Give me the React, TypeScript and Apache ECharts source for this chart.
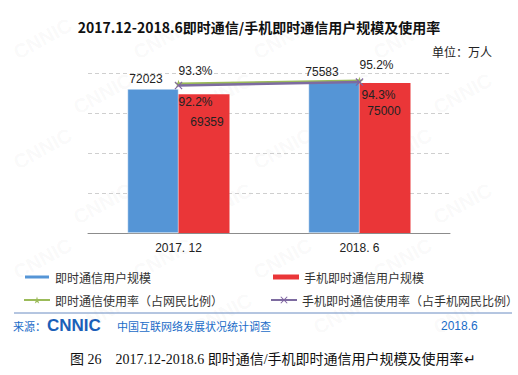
import React, { useEffect, useRef } from "react";
import * as echarts from "echarts";

const categories = ["2017. 12", "2018. 6"];
const imUsers = [72023, 75583];
const mobileImUsers = [69359, 75000];
const imRate = [93.3, 95.2];
const mobileImRate = [92.2, 94.3];

const seriesNames = [
  "即时通信用户规模",
  "手机即时通信用户规模",
  "即时通信使用率（占网民比例）",
  "手机即时通信使用率（占手机网民比例）",
];

const STAR =
  "path://M50,0L61,35L98,35L68,57L79,91L50,70L21,91L32,57L2,35L39,35Z";
const CROSS =
  "path://M10,0L50,40L90,0L100,10L60,50L100,90L90,100L50,60L10,100L0,90L40,50L0,10Z";

const FONT = "'Liberation Sans', 'Noto Sans CJK SC', sans-serif";
const CJK = "'Noto Sans CJK SC', 'Liberation Sans', sans-serif";

export default function App() {
  const ref = useRef<HTMLDivElement>(null);
  useEffect(() => {
    if (!ref.current) return;
    const chart = echarts.init(ref.current, null, { renderer: "svg" });

    const watermarks: any[] = [];
    for (let r = 0; r < 8; r++) {
      for (let c = 0; c < 6; c++) {
        const x = c * 120 + (r % 2) * 60 + 10;
        const y = r * 55 + 45;
        if (x < 5 || x > 445 || y < 40 || y > 365) continue;
        watermarks.push({
          type: "text",
          x,
          y,
          rotation: 0.5,
          silent: true,
          z: -10,
          style: {
            text: "CNNIC",
            fill: "rgba(120,120,120,0.05)",
            font: "bold 20px 'Liberation Sans', sans-serif",
          },
        });
      }
    }

    chart.setOption({
      animation: false,
      backgroundColor: "#fff",
      textStyle: { fontFamily: FONT },
      title: {
        text: "2017.12-2018.6即时通信/手机即时通信用户规模及使用率",
        left: "center",
        top: 15,
        textStyle: {
          fontSize: 14,
          fontWeight: "bold",
          color: "#111",
          fontFamily: CJK,
        },
      },
      grid: { left: 88, right: 68, top: 73, bottom: 142 },
      xAxis: {
        type: "category",
        data: categories,
        axisLine: { lineStyle: { color: "#8c8c8c" } },
        axisTick: { inside: true, length: 4, lineStyle: { color: "#8c8c8c" } },
        axisLabel: { color: "#222", fontSize: 12, margin: 9, fontFamily: FONT },
      },
      yAxis: [
        {
          type: "value",
          min: 0,
          max: 80000,
          interval: 20000,
          axisLine: { show: false },
          axisTick: { show: false },
          axisLabel: { show: false },
          splitLine: { lineStyle: { color: "#cfcfcf", type: [4, 3] } },
        },
        {
          type: "value",
          min: 0,
          max: 100,
          show: false,
          splitLine: { show: false },
        },
      ],
      legend: [
        {
          data: [seriesNames[0]],
          left: 18,
          top: 266,
          icon: "rect",
          itemWidth: 26,
          itemHeight: 5,
          textStyle: { fontSize: 12, color: "#333", fontFamily: CJK },
        },
        {
          data: [seriesNames[1]],
          left: 268,
          top: 266,
          icon: "rect",
          itemWidth: 26,
          itemHeight: 5,
          textStyle: { fontSize: 12, color: "#333", fontFamily: CJK },
        },
        {
          data: [seriesNames[2]],
          left: 18,
          top: 289,
          itemWidth: 26,
          itemHeight: 9,
          textStyle: { fontSize: 12, color: "#333", fontFamily: CJK },
        },
        {
          data: [seriesNames[3]],
          left: 265,
          top: 289,
          itemWidth: 26,
          itemHeight: 9,
          textStyle: { fontSize: 12, color: "#333", fontFamily: CJK },
        },
      ],
      series: [
        {
          name: seriesNames[0],
          type: "bar",
          data: imUsers.map((v, i) => ({
            value: v,
            label: { offset: i === 0 ? [-7, 0] : [-12, 0] },
          })),
          barWidth: 51,
          barGap: "0%",
          itemStyle: { color: "#5595d6", borderColor: "#fff", borderWidth: 0.5 },
          label: {
            show: true,
            position: "top",
            distance: 4,
            color: "#222",
            fontSize: 12,
          },
        },
        {
          name: seriesNames[1],
          type: "bar",
          data: mobileImUsers.map((v, i) => ({
            value: v,
            label: { offset: i === 0 ? [3, 0] : [-1, 0] },
          })),
          barWidth: 51,
          barGap: "0%",
          itemStyle: { color: "#ea3638" },
          label: {
            show: true,
            position: "insideTop",
            distance: 22,
            color: "#222",
            fontSize: 12,
          },
        },
        {
          name: seriesNames[2],
          type: "line",
          yAxisIndex: 1,
          data: imRate.map((v, i) => ({
            value: v,
            label: { offset: i === 0 ? [17, -13] : [17, -16] },
          })),
          symbol: STAR,
          symbolSize: 8,
          itemStyle: { color: "#9bbb59" },
          lineStyle: { color: "#9bbb59", width: 2.5 },
          label: {
            show: true,
            position: "inside",
            color: "#222",
            fontSize: 12,
            formatter: (p: any) => p.value + "%",
          },
          z: 5,
        },
        {
          name: seriesNames[3],
          type: "line",
          yAxisIndex: 1,
          data: mobileImRate.map((v, i) => ({
            value: v,
            label: { offset: i === 0 ? [17, 17] : [19, 13] },
          })),
          symbol: CROSS,
          symbolSize: 8,
          itemStyle: { color: "#8064a2" },
          lineStyle: { color: "#7d6ba0", width: 2.5 },
          label: {
            show: true,
            position: "inside",
            color: "#222",
            fontSize: 12,
            formatter: (p: any) => p.value + "%",
          },
          z: 6,
        },
      ],
      graphic: [
        ...watermarks,
        {
          type: "text",
          right: 26,
          top: 45,
          style: {
            text: "单位：万人",
            fill: "#222",
            font: `12px ${CJK}`,
          },
        },
        {
          type: "line",
          shape: { x1: 14, y1: 313, x2: 512, y2: 313 },
          style: { stroke: "#6a8cc2", lineWidth: 1 },
        },
        {
          type: "text",
          x: 13,
          y: 320,
          style: {
            text: "来源：",
            fill: "#1a6cc8",
            font: `11px ${CJK}`,
          },
        },
        {
          type: "text",
          x: 47,
          y: 317,
          style: {
            text: "CNNIC",
            fill: "#1a5fb8",
            font: "900 17px 'Liberation Sans', sans-serif",
          },
        },
        {
          type: "text",
          x: 117,
          y: 320,
          style: {
            text: "中国互联网络发展状况统计调查",
            fill: "#1a6cc8",
            font: `11px ${CJK}`,
          },
        },
        {
          type: "text",
          x: 441,
          y: 320,
          style: {
            text: "2018.6",
            fill: "#1a6cc8",
            font: "12px 'Liberation Sans', sans-serif",
          },
        },
        {
          type: "text",
          x: 70,
          y: 352,
          style: {
            text: "图 26    2017.12-2018.6 即时通信/手机即时通信用户规模及使用率↵",
            fill: "#111",
            font: "14px 'Liberation Serif', 'Noto Sans CJK SC', serif",
          },
        },
      ],
    });
    return () => chart.dispose();
  }, []);
  return (
    <div
      ref={ref}
      style={{ position: "fixed", left: 0, top: 0, width: 518, height: 375 }}
    />
  );
}
